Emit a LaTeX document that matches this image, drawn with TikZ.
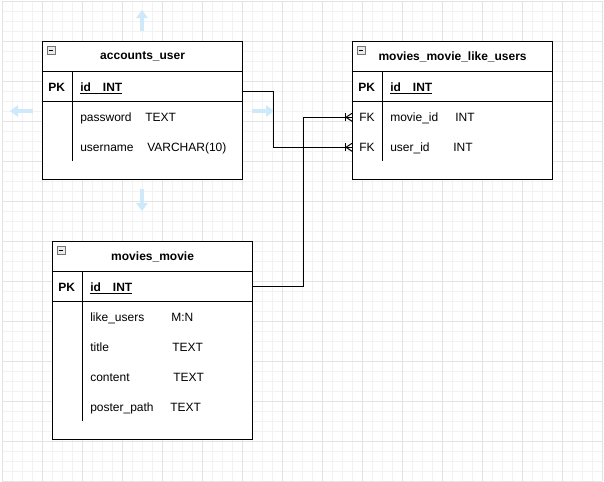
\documentclass[tikz,border=0pt]{standalone}
\usepackage{fontspec}
\setmainfont{Liberation Sans}
\usetikzlibrary{arrows.meta}

\definecolor{hoverblue}{RGB}{206,233,250}

\tikzset{
  minorgrid/.style={draw=black!5, line width=0.6pt},
  majorgrid/.style={draw=black!11, line width=0.75pt},
  entity/.style={draw, line width=0.9pt, fill=white, anchor=north west, minimum width=150pt, inner sep=0pt},
  rowbox/.style={anchor=north west, minimum width=150pt, minimum height=22.5pt, inner sep=0pt},
  tabletitle/.style={rowbox, draw, line width=0.9pt, font=\bfseries\fontsize{9}{11}\selectfont},
  keybox/.style={rowbox, draw, line width=0.9pt},
  fld/.style={anchor=base west, yshift=-3.2pt, inner sep=0pt, font=\fontsize{9}{11}\selectfont},
  keyfld/.style={fld, font=\bfseries\fontsize{9}{11}\selectfont},
  divider/.style={line width=0.75pt},
  link/.style={line width=0.75pt},
  hover/.style={draw=hoverblue, line width=3.5pt, -{Triangle[width=8.5pt,length=6pt]}},
  fold/.style={draw=black!55, fill=black!8, minimum size=6pt, inner sep=0pt, line width=0.4pt},
}

\begin{document}
\begin{tikzpicture}[x=0.75pt,y=-0.75pt]
\useasboundingbox (0,0) rectangle (604,482);

% background grid
\foreach \i in {0,...,60} \draw[minorgrid] (2+10*\i,1) -- (2+10*\i,481);
\foreach \j in {0,...,48} \draw[minorgrid] (2,1+10*\j) -- (602,1+10*\j);
\foreach \i in {0,...,15} \draw[majorgrid] (2+40*\i,1) -- (2+40*\i,481);
\foreach \j in {0,...,12} \draw[majorgrid] (2,1+40*\j) -- (602,1+40*\j);

% hover arrows round accounts_user
\draw[hover] (142,31) -- (142,10);
\draw[hover] (33,111) -- (10,111);
\draw[hover] (252,111) -- (274,111);
\draw[hover] (142,189) -- (142,211);

% accounts_user
\node[entity, minimum height=103.5pt] (au) at (42,41) {};
\node[tabletitle] (auhead) at (42,41) {accounts\_user};
\node[keybox] (aupk) at (42,71) {};
\node[fold] (aufold) at (51,50) {\rule{3.5pt}{0.5pt}};
\draw[divider] ([xshift=22.5pt]aupk.north west) -- ++(0,90);
\node[keyfld] (aupkl) at (48,87) {PK};
\node[keyfld] (auid) at (80,87) {\underline{id\hspace{1em}INT}};
\node[fld] (aupass) at (80,117) {password};
\node[fld] (aupasst) at (145,117) {TEXT};
\node[fld] (auname) at (80,147) {username};
\node[fld] (aunamet) at (147,147) {VARCHAR(10)};

% movies_movie_like_users
\node[entity, minimum height=103.5pt] (lu) at (352,41) {};
\node[tabletitle] (luhead) at (352,41) {movies\_movie\_like\_users};
\node[keybox] (lupk) at (352,71) {};
\node[fold] (lufold) at (361,50) {\rule{3.5pt}{0.5pt}};
\draw[divider] ([xshift=22.5pt]lupk.north west) -- ++(0,90);
\node[keyfld] (lupkl) at (358,87) {PK};
\node[keyfld] (luid) at (390,87) {\underline{id\hspace{1em}INT}};
\node[rowbox] (lumovie) at (352,102) {};
\node[rowbox] (luuser) at (352,132) {};
\node[fld] (lufk1) at (359,117) {FK};
\node[fld] (lumoviel) at (390,117) {movie\_id};
\node[fld] (lumoviet) at (455,117) {INT};
\node[fld] (lufk2) at (359,147) {FK};
\node[fld] (luuserl) at (390,147) {user\_id};
\node[fld] (luusert) at (453,147) {INT};

% movies_movie
\node[entity, minimum height=148.5pt] (mm) at (52,241) {};
\node[tabletitle] (mmhead) at (52,241) {movies\_movie};
\node[keybox] (mmpk) at (52,271) {};
\node[fold] (mmfold) at (61,250) {\rule{3.5pt}{0.5pt}};
\draw[divider] ([xshift=22.5pt]mmpk.north west) -- ++(0,150);
\node[keyfld] (mmpkl) at (58,287) {PK};
\node[keyfld] (mmid) at (90,287) {\underline{id\hspace{1em}INT}};
\node[fld] (mmlike) at (90,317) {like\_users};
\node[fld] (mmliket) at (171,317) {M:N};
\node[fld] (mmtitle) at (90,347) {title};
\node[fld] (mmtitlet) at (172,347) {TEXT};
\node[fld] (mmcont) at (90,377) {content};
\node[fld] (mmcontt) at (173,377) {TEXT};
\node[fld] (mmpath) at (90,407) {poster\_path};
\node[fld] (mmpatht) at (170,407) {TEXT};

% relations
\draw[link] ([yshift=-3.75pt]aupk.east) -- ++(30,0) |- (luuser.west);
\draw[link] (mmpk.east) -- ++(50,0) |- (lumovie.west);
\foreach \n in {lumovie,luuser}{
  \draw[link] ([xshift=-4.5pt]\n.west) -- ([yshift=3pt]\n.west)
              ([xshift=-4.5pt]\n.west) -- ([yshift=-3pt]\n.west);
  \draw[link] ([xshift=-5.25pt,yshift=3pt]\n.west) -- ([xshift=-5.25pt,yshift=-3pt]\n.west);
}
\end{tikzpicture}
\end{document}
